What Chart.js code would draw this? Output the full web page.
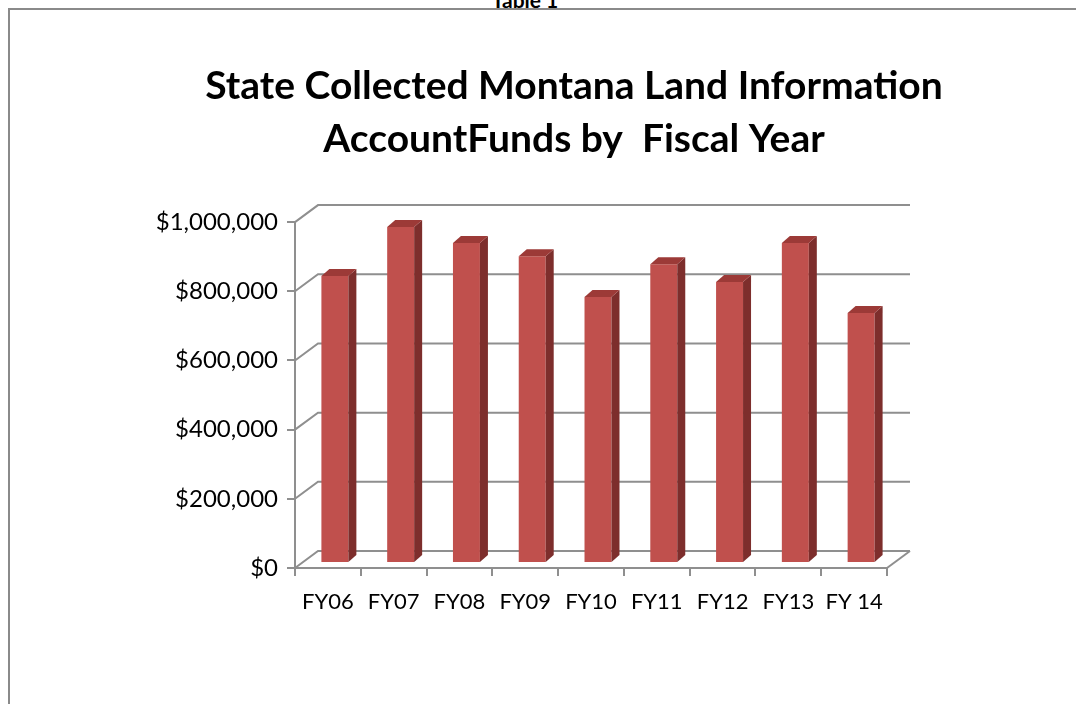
<!DOCTYPE html>
<html>
<head>
<meta charset="utf-8">
<script src="https://cdn.jsdelivr.net/npm/chart.js@4.4.1/dist/chart.umd.min.js"></script>
<style>
  body { margin: 0; width: 1076px; height: 704px; overflow: hidden; position: relative; background: #fff; }
  #frame { position: absolute; left: 8px; top: 8px; width: 1100px; height: 800px; border: 2px solid #8a8a8a; }
  #tbl { position: absolute; left: 0; top: -13px; width: 1050px; text-align: center; font: bold 21px Lato, sans-serif; color: #000; }
  #wrap { position: absolute; left: 0; top: 0; }
</style>
</head>
<body>
<div id="frame"></div>
<div id="tbl">Table 1</div>
<div id="wrap"><canvas id="myGraph" width="1076" height="704"></canvas></div>
<script>
// values
const fiscalYears = ['FY06', 'FY07', 'FY08', 'FY09', 'FY10', 'FY11', 'FY12', 'FY13', 'FY 14'];
const fundsCollected = [830000, 971000, 925000, 887000, 769000, 864000, 812000, 925000, 723000];
const axisMin = 0;
const axisMax = 1000000;
const axisStep = 200000;
const titleLines = ['State Collected Montana Land Information', 'AccountFunds by  Fiscal Year'];

const gridColor = '#8f8f8f';
const wallDepth = { x: 23, y: -17 };   // back wall offset
const barShift = { x: 7, y: -5 };      // bar front face inside the box
const barDepth = { x: 8, y: -7 };      // bar thickness

function money(v) {
    return '$' + Number(v).toLocaleString('en-US');
}

// draws the back wall, side wall and floor lines, then the bar sides/tops
const box3d = {
    id: 'box3d',
    beforeDatasetsDraw(chart) {
        const ctx = chart.ctx;
        const area = chart.chartArea;
        const y = chart.scales.y;
        ctx.save();
        ctx.strokeStyle = gridColor;
        ctx.lineWidth = 2;
        y.ticks.forEach(function (t) {
            const py = y.getPixelForValue(t.value);
            ctx.beginPath();
            ctx.moveTo(area.left, py);
            ctx.lineTo(area.left + wallDepth.x, py + wallDepth.y);
            ctx.lineTo(area.right + wallDepth.x, py + wallDepth.y);
            ctx.stroke();
        });
        const p0 = y.getPixelForValue(axisMin);
        ctx.beginPath();
        ctx.moveTo(area.right, p0);
        ctx.lineTo(area.right + wallDepth.x, p0 + wallDepth.y);
        ctx.stroke();
        ctx.restore();

        ctx.save();
        ctx.translate(barShift.x, barShift.y);
    },
    afterDatasetsDraw(chart) {
        const ctx = chart.ctx;
        chart.getDatasetMeta(0).data.forEach(function (bar) {
            const p = bar.getProps(['x', 'y', 'width', 'base'], true);
            const l = p.x - p.width / 2;
            const r = p.x + p.width / 2;
            // side
            ctx.fillStyle = '#7d2e2c';
            ctx.beginPath();
            ctx.moveTo(r, p.y);
            ctx.lineTo(r + barDepth.x, p.y + barDepth.y);
            ctx.lineTo(r + barDepth.x, p.base + barDepth.y);
            ctx.lineTo(r, p.base);
            ctx.closePath();
            ctx.fill();
            // top
            ctx.fillStyle = '#9c3a37';
            ctx.beginPath();
            ctx.moveTo(l, p.y);
            ctx.lineTo(l + barDepth.x, p.y + barDepth.y);
            ctx.lineTo(r + barDepth.x, p.y + barDepth.y);
            ctx.lineTo(r, p.y);
            ctx.closePath();
            ctx.fill();
        });
        ctx.restore();
    }
};

const ctx = document.getElementById('myGraph').getContext('2d');
const barChart = new Chart(ctx, {
    type: 'bar',
    data: {
        labels: fiscalYears,
        datasets: [{
            label: 'Funds',
            data: fundsCollected,
            backgroundColor: '#c0504d',
            borderWidth: 0,
            barPercentage: 0.41,
            categoryPercentage: 1
        }]
    },
    options: {
        responsive: false,
        animation: false,
        layout: { padding: { left: 72, right: 0, top: 0, bottom: 0 } },
        plugins: {
            legend: { display: false },
            tooltip: { enabled: false },
            title: {
                display: true,
                text: titleLines,
                color: '#000',
                font: { family: 'Lato', size: 39, weight: 'bold', lineHeight: 1.36 },
                padding: { top: 60, bottom: 56 }
            }
        },
        scales: {
            x: {
                offset: true,
                grid: { offset: true, drawOnChartArea: false, tickLength: 8, color: gridColor, lineWidth: 2 },
                border: { color: gridColor, width: 2 },
                ticks: {
                    color: '#000',
                    padding: 13,
                    maxRotation: 0,
                    minRotation: 0,
                    autoSkip: false,
                    font: { family: 'Lato', size: 22 }
                },
                afterFit: function (s) { s.height = 136; }
            },
            y: {
                min: axisMin,
                max: axisMax,
                grid: { drawOnChartArea: false, tickLength: 8, color: gridColor, lineWidth: 2 },
                border: { color: gridColor, width: 2 },
                ticks: {
                    stepSize: axisStep,
                    color: '#000',
                    padding: 9,
                    font: { family: 'Lato', size: 24 },
                    callback: money
                },
                afterFit: function (s) { s.width = 223; }
            },
            y2: {
                position: 'right',
                display: true,
                grid: { display: false },
                border: { display: false },
                ticks: { display: false },
                afterFit: function (s) { s.width = 189; }
            }
        }
    },
    plugins: [box3d]
});
</script>
</body>
</html>
